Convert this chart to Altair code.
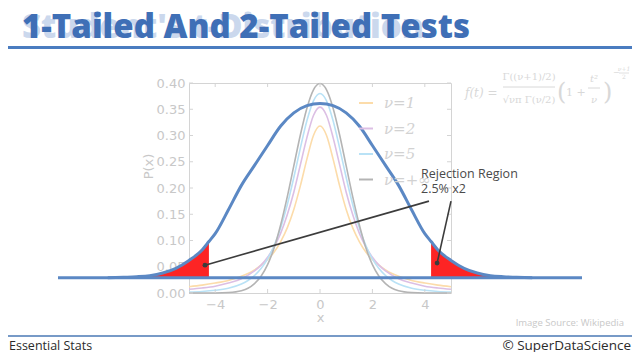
import altair as alt
import pandas as pd

# ---------------- data ----------------
# Background Student-t curves (faded Wikipedia figure), positive half (curves are symmetric)
half_x = [0, 0.25, 0.5, 0.75, 1, 1.25, 1.5, 1.75, 2, 2.25, 2.5, 2.75, 3, 3.5, 4, 4.5, 5]
nu1 = [0.318, 0.300, 0.255, 0.204, 0.159, 0.124, 0.098, 0.078, 0.064, 0.053, 0.044, 0.037, 0.032, 0.024, 0.019, 0.015, 0.012]
nu2 = [0.354, 0.338, 0.296, 0.244, 0.192, 0.149, 0.114, 0.088, 0.068, 0.053, 0.042, 0.034, 0.027, 0.019, 0.013, 0.0095, 0.0071]
nu5 = [0.380, 0.366, 0.328, 0.276, 0.220, 0.168, 0.1245, 0.0905, 0.0651, 0.0466, 0.0333, 0.0239, 0.0173, 0.0092, 0.0051, 0.0029, 0.0018]
nuinf = [0.399, 0.387, 0.352, 0.301, 0.242, 0.183, 0.130, 0.086, 0.054, 0.032, 0.018, 0.009, 0.0044, 0.0009, 0.0001, 0.0, 0.0]
series_labels = ["ν=1", "ν=2", "ν=5", "ν=+∞"]
series_values = [nu1, nu2, nu5, nuinf]
series_colors = ["#fcdcaa", "#dcbfe4", "#b9e2f6", "#b4b4b4"]

# Overlaid large bell curve (in the same axis units), positive half
big_x = [0, 0.5, 1, 1.5, 2, 2.5, 3, 3.5, 4, 4.24, 4.5, 5, 5.5, 6, 6.5, 7, 7.5, 8.1]
big_y = [0.361, 0.357, 0.343, 0.318, 0.281, 0.243, 0.205, 0.158, 0.113, 0.098, 0.082, 0.062, 0.047, 0.038, 0.033, 0.031, 0.030, 0.029]
baseline_y = 0.029
baseline_x = [-10, 10]
reject_cut = 4.24

x_ticks = [-4, -2, 0, 2, 4]
y_ticks = [0.0, 0.05, 0.10, 0.15, 0.20, 0.25, 0.30, 0.35, 0.40]

# Annotation pointer lines (start at label, end at dot)
annot_line = ["a", "a", "b", "b"]
annot_x = [4.16, -4.39, 5.0, 4.47]
annot_y = [0.175, 0.053, 0.175, 0.057]
dot_x = [-4.39, 4.47]
dot_y = [0.053, 0.057]

# ---------------- tables ----------------
rows = []
for lab, vals in zip(series_labels, series_values):
    for xv, yv in zip(half_x, vals):
        rows.append({"x": xv, "y": yv, "series": lab})
        if xv != 0:
            rows.append({"x": -xv, "y": yv, "series": lab})
bg_df = pd.DataFrame(rows)

big_rows = []
for xv, yv in zip(big_x, big_y):
    big_rows.append({"x": xv, "y": yv})
    if xv != 0:
        big_rows.append({"x": -xv, "y": yv})
big_df = pd.DataFrame(big_rows).sort_values("x")

red_df = big_df[big_df["x"].abs() >= reject_cut].copy()
red_df["side"] = ["L" if v < 0 else "R" for v in red_df["x"]]
red_df["base"] = baseline_y

base_df = pd.DataFrame({"x": baseline_x, "y": [baseline_y] * len(baseline_x)})
annot_df = pd.DataFrame({"x": annot_x, "y": annot_y, "line": annot_line})
dot_df = pd.DataFrame({"x": dot_x, "y": dot_y})
xt_df = pd.DataFrame({"x": x_ticks})
yt_df = pd.DataFrame({"y": y_ticks})
one = pd.DataFrame({"k": [0]})

W, H = 262, 210
GRAY = "#c8c8c8"
FRAME = "#d4d4d4"
BLUE = "#5b88c4"

xs = alt.Scale(domain=[-5, 5], nice=False)
ys = alt.Scale(domain=[0, 0.4], nice=False)

ax_x = alt.Axis(
    title="x", values=x_ticks, format="d", grid=False, ticks=False, domain=False,
    labelOverlap=False,
    labelFont="DejaVu Sans", labelFontSize=13, labelColor=GRAY, labelPadding=5,
    titleFont="DejaVu Sans", titleFontSize=13, titleColor=GRAY, titleFontWeight="normal",
    titleY=24, titleBaseline="middle")
ax_y = alt.Axis(
    title="P(x)", values=y_ticks, format=".2f", grid=False, ticks=False, domain=False,
    labelOverlap=False,
    labelFont="DejaVu Sans", labelFontSize=13, labelColor=GRAY, labelPadding=4,
    titleFont="DejaVu Sans", titleFontSize=13, titleColor=GRAY, titleFontWeight="normal",
    titleX=-41, titleY=83, titleAngle=270, titleBaseline="middle", titleAlign="center")


def X(f="x:Q"):
    return alt.X(f, scale=xs, axis=ax_x)


def Y(f="y:Q"):
    return alt.Y(f, scale=ys, axis=ax_y)


bg = alt.Chart(bg_df).mark_line(strokeWidth=1.6, interpolate="monotone").encode(
    x=X(), y=Y(),
    color=alt.Color("series:N", sort=series_labels,
                    scale=alt.Scale(domain=series_labels, range=series_colors),
                    legend=alt.Legend(orient="none", legendX=169, legendY=12, padding=0,
                                      title=None, symbolType="stroke", symbolSize=196,
                                      symbolStrokeWidth=2, labelFont="DejaVu Serif",
                                      labelFontStyle="italic", labelFontSize=15,
                                      labelColor="#d2d2d2", rowPadding=9.5, labelOffset=10)),
)

ticks_l = alt.Chart(yt_df).mark_rule(color=FRAME).encode(y=Y(), x=alt.value(0), x2=alt.value(4))
ticks_r = alt.Chart(yt_df).mark_rule(color=FRAME).encode(y=Y(), x=alt.value(W - 4), x2=alt.value(W))
ticks_b = alt.Chart(xt_df).mark_rule(color=FRAME).encode(x=X(), y=alt.value(H - 4), y2=alt.value(H))
ticks_t = alt.Chart(xt_df).mark_rule(color=FRAME).encode(x=X(), y=alt.value(0), y2=alt.value(4))

red = alt.Chart(red_df).mark_area(color="#fd2424", interpolate="monotone", opacity=1).encode(
    x=X(), y=Y(), y2="base:Q", detail="side:N")

base = alt.Chart(base_df).mark_line(color=BLUE, strokeWidth=3).encode(x=X(), y=Y())

big = alt.Chart(big_df).mark_line(color=BLUE, strokeWidth=3, interpolate="monotone").encode(x=X(), y=Y())

annot = alt.Chart(annot_df).mark_line(color="#3c3c3c", strokeWidth=1.6).encode(
    x=X(), y=Y(), detail="line:N")
dots = alt.Chart(dot_df).mark_circle(color="#3c3c3c", size=24, opacity=1).encode(x=X(), y=Y())


def txt(s, x, y, size, color, font="Open Sans", weight="normal", align="left",
        baseline="alphabetic", style="normal"):
    return alt.Chart(one).mark_text(text=s, fontSize=size, color=color, font=font,
                                    fontWeight=weight, align=align, baseline=baseline,
                                    fontStyle=style).encode(x=alt.value(x), y=alt.value(y))


def rule(x1, x2, y, color, width):
    return alt.Chart(one).mark_rule(color=color, strokeWidth=width).encode(
        x=alt.value(x1), x2=alt.value(x2), y=alt.value(y))


FORM = "#d8d8d8"
deco = [
    txt("Student's t-Distribution", -167, -45, 33, "#cbd8ed", weight=800),
    txt("1-Tailed And 2-Tailed Tests", -167, -45, 33, "#3f6fb6", weight=800),
    rule(-181, 443, -35.5, "#4a7cc0", 3),
    rule(-181, 443, 253, "#4a78b4", 1.5),
    txt("Essential Stats", -180, 263, 12.5, "#2b2b2b", baseline="middle"),
    txt("© SuperDataScience", 442, 263, 13.5, "#2b2b2b", align="right", baseline="middle"),
    txt("Image Source: Wikipedia", 435, 240, 9.5, GRAY, align="right", baseline="middle"),
    txt("Rejection Region", 232, 95, 12.5, "#4a4a4a"),
    txt("2.5% x2", 232, 110, 12.5, "#4a4a4a"),
    txt("f(t) =", 276, 10, 12, FORM, font="DejaVu Serif", style="italic", baseline="middle"),
    txt("Γ((ν+1)/2)", 340, -6, 10, FORM, font="DejaVu Serif", align="center", baseline="middle"),
    rule(314, 366, 4, FORM, 1),
    txt("√νπ Γ(ν/2)", 340, 17, 10, FORM, font="DejaVu Serif", align="center", baseline="middle"),
    txt("(", 368, 10, 24, FORM, font="DejaVu Serif", baseline="middle"),
    txt("1 +", 377, 10, 11, FORM, font="DejaVu Serif", baseline="middle"),
    txt("t²", 405, -4, 10, FORM, font="DejaVu Serif", style="italic", align="center", baseline="middle"),
    rule(399, 411, 5, FORM, 1),
    txt("ν", 405, 17, 10, FORM, font="DejaVu Serif", style="italic", align="center", baseline="middle"),
    txt(")", 414, 10, 24, FORM, font="DejaVu Serif", baseline="middle"),
    txt("−", 424, -10, 8, FORM, font="DejaVu Serif", baseline="middle"),
    txt("ν+1", 435, -14, 6, FORM, font="DejaVu Serif", style="italic", align="center", baseline="middle"),
    rule(430, 440, -10, FORM, 0.8),
    txt("2", 435, -6, 6, FORM, font="DejaVu Serif", align="center", baseline="middle"),
]

chart = alt.layer(bg, ticks_l, ticks_r, ticks_b, ticks_t, red, base, big, annot, dots, *deco).properties(
    width=W, height=H,
    autosize=alt.AutoSizeParams(type="none"),
    padding={"left": 181, "top": 75, "right": 181, "bottom": 59},
    background="white",
).configure_view(stroke=FRAME)

chart.save("out.html", embed_options={"renderer": "svg", "actions": False})
